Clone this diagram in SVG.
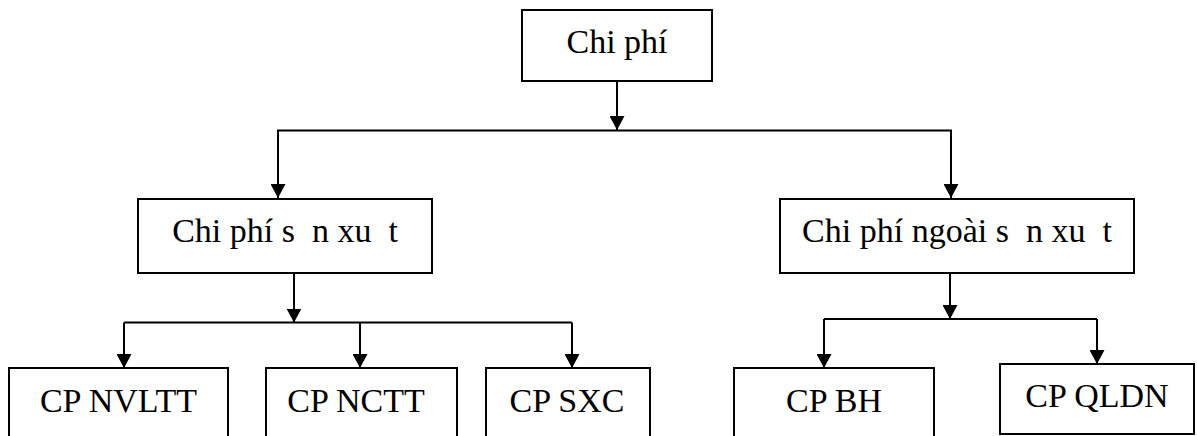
<svg xmlns="http://www.w3.org/2000/svg" width="1197" height="436" viewBox="0 0 1197 436">
  <style>
    .box { fill: #ffffff; stroke: #000000; stroke-width: 2; }
    .lbl { font-family: "Liberation Serif", "Times New Roman", serif; font-size: 34px; fill: #000000; text-anchor: middle; white-space: pre; }
    .wire { fill: none; stroke: #000000; stroke-width: 2; }
  </style>
  <defs>
    <marker id="arrow" viewBox="0 0 14 15" refX="14" refY="7.5" markerWidth="14" markerHeight="15" markerUnits="userSpaceOnUse" orient="auto">
      <path d="M0,0 L14,7.5 L0,15 Z" fill="#000000"/>
    </marker>
  </defs>

  <rect width="1197" height="436" fill="#ffffff"/>

  <!-- connectors -->
  <g id="connectors" class="wire">
    <line x1="617" y1="81" x2="617" y2="130" marker-end="url(#arrow)"/>
    <polyline points="278,198 278,130.5 951,130.5 951,198" marker-end="url(#arrow)"/>
    <line x1="278" y1="130.5" x2="278" y2="198" marker-end="url(#arrow)"/>

    <line x1="294" y1="274" x2="294" y2="322.5" marker-end="url(#arrow)"/>
    <polyline points="124,322.5 572,322.5"/>
    <line x1="124" y1="322.5" x2="124" y2="368" marker-end="url(#arrow)"/>
    <line x1="360" y1="322.5" x2="360" y2="368" marker-end="url(#arrow)"/>
    <line x1="572" y1="322.5" x2="572" y2="368" marker-end="url(#arrow)"/>

    <line x1="950" y1="274" x2="950" y2="319" marker-end="url(#arrow)"/>
    <polyline points="824,319 1097,319"/>
    <line x1="824" y1="319" x2="824" y2="368" marker-end="url(#arrow)"/>
    <line x1="1097" y1="319" x2="1097" y2="364" marker-end="url(#arrow)"/>
  </g>

  <!-- root -->
  <g id="chi-phi">
    <rect class="box" x="522" y="10" width="190" height="71"/>
    <text class="lbl" x="617" y="53">Chi phí</text>
  </g>

  <!-- second level -->
  <g id="chi-phi-san-xuat">
    <rect class="box" x="138" y="199" width="294" height="74"/>
    <text class="lbl" x="285" y="242" xml:space="preserve">Chi phí s  n xu  t</text>
  </g>
  <g id="chi-phi-ngoai-san-xuat">
    <rect class="box" x="780" y="199" width="354" height="74"/>
    <text class="lbl" x="957" y="242" xml:space="preserve">Chi phí ngoài s  n xu  t</text>
  </g>

  <!-- third level -->
  <g id="cp-nvltt">
    <rect class="box" x="9" y="368" width="219" height="80"/>
    <text class="lbl" x="118.5" y="412">CP NVLTT</text>
  </g>
  <g id="cp-nctt">
    <rect class="box" x="266" y="368" width="191" height="80"/>
    <text class="lbl" x="356" y="412">CP NCTT</text>
  </g>
  <g id="cp-sxc">
    <rect class="box" x="486" y="368" width="164" height="80"/>
    <text class="lbl" x="567" y="412">CP SXC</text>
  </g>
  <g id="cp-bh">
    <rect class="box" x="734" y="368" width="200" height="80"/>
    <text class="lbl" x="834" y="412">CP BH</text>
  </g>
  <g id="cp-qldn">
    <rect class="box" x="1000" y="364" width="194" height="70"/>
    <text class="lbl" x="1097" y="407">CP QLDN</text>
  </g>
</svg>
